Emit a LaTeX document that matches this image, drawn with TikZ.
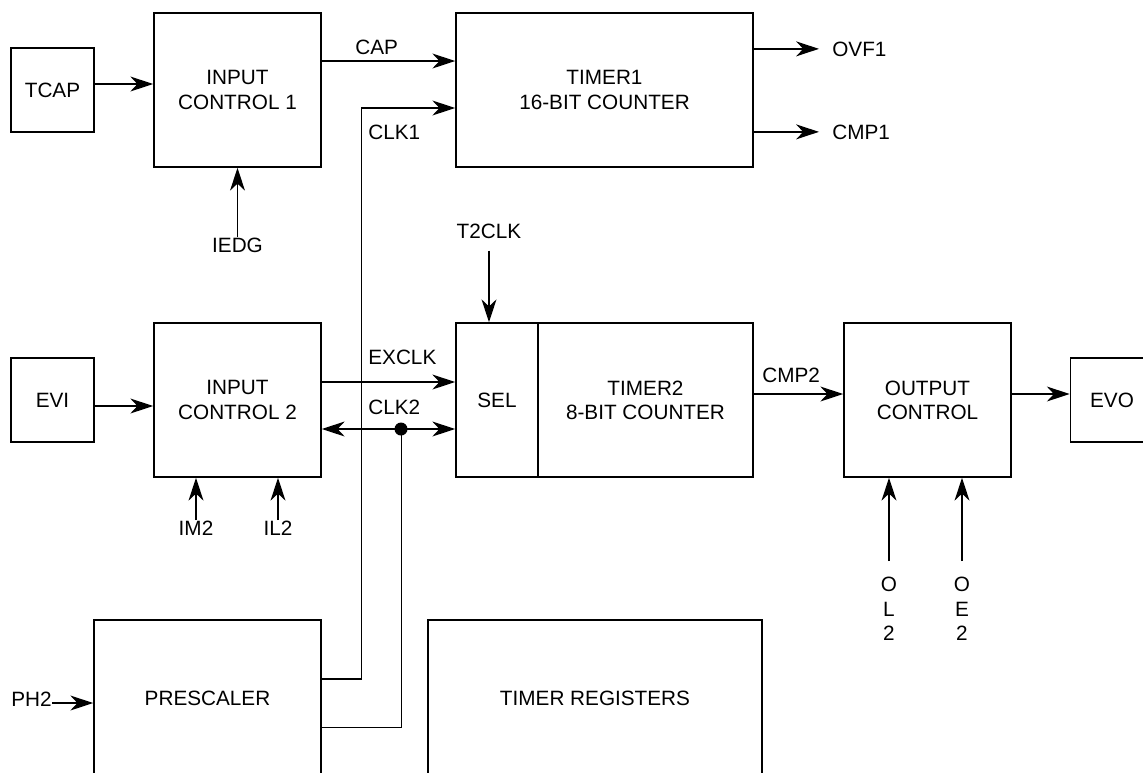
\documentclass[tikz,border=0pt]{standalone}
\usepackage{fontspec}
\setmainfont{Liberation Sans}
\usetikzlibrary{arrows.meta}

\begin{document}
\begin{tikzpicture}[
    x=0.02cm, y=-0.02cm,
    every node/.style={font=\fontsize{11.8}{13.8}\selectfont, align=center},
    blk/.style={draw, line width=0.9pt, inner sep=0pt},
    sq/.style={blk, minimum width=1.66cm, minimum height=1.68cm},
    ctl/.style={blk, minimum width=3.34cm, minimum height=3.08cm},
    lbl/.style={inner sep=0pt},
    sig/.style={line width=0.75pt, -{Stealth[length=13pt, width=8.5pt, inset=4pt]}},
    sig2/.style={line width=0.75pt, {Stealth[length=13pt, width=8.5pt, inset=4pt]}-{Stealth[length=13pt, width=8.5pt, inset=4pt]}}
]
\useasboundingbox (0,0) rectangle (1143,772);
\clip (0,0) rectangle (1143,772);

% blocks
\node[sq] (tcap) at (52.5,90) {TCAP};
\node[ctl] (ic1) at (237.5,90) {INPUT\\CONTROL 1};
\node[blk, minimum width=5.94cm, minimum height=3.08cm] (tmr1) at (604.5,90) {TIMER1\\16-BIT COUNTER};
\node[sq] (evi) at (52.5,400) {EVI};
\node[ctl] (ic2) at (237.5,400) {INPUT\\CONTROL 2};
\node[blk, minimum width=1.64cm, minimum height=3.08cm] (sel) at (497,400) {SEL};
\node[blk, minimum width=4.3cm, minimum height=3.08cm] (tmr2) at (645.5,400) {TIMER2\\8-BIT COUNTER};
\node[ctl] (oc) at (927.5,400) {OUTPUT\\CONTROL};
\node[sq] (evo) at (1112,400) {EVO};
\node[blk, minimum width=4.54cm, minimum height=3.12cm] (pre) at (207.5,698) {PRESCALER};
\node[blk, minimum width=6.68cm, minimum height=3.12cm] (regs) at (595,698) {TIMER REGISTERS};

% signal names
\node[lbl, anchor=base west] (cap) at (355,54) {CAP};
\node[lbl, anchor=base west] (clk1) at (368,139) {CLK1};
\node[lbl, anchor=base west] (exclk) at (368,364) {EXCLK};
\node[lbl, anchor=base west] (clk2) at (368,414) {CLK2};
\node[lbl, anchor=base west] (cmp2) at (762,382) {CMP2};
\node[lbl, anchor=base west] (ovf1) at (832,56) {OVF1};
\node[lbl, anchor=base west] (cmp1) at (832,139) {CMP1};
\node[lbl, anchor=base] (iedg) at (237.5,252) {IEDG};
\node[lbl, anchor=base] (t2clk) at (489,238) {T2CLK};
\node[lbl, anchor=base] (im2) at (196,535) {IM2};
\node[lbl, anchor=base] (il2) at (278,535) {IL2};
\node[lbl, anchor=north] (ol2) at (889,577) {O\\L\\2};
\node[lbl, anchor=north] (oe2) at (962,577) {O\\E\\2};
\node[lbl, anchor=base west] (ph2) at (11,706) {PH2};
\coordinate (jct) at (401,429);
\coordinate (ph2in) at ([yshift=0.06cm]ph2.base east);

% connectors
\draw[sig] ([yshift=0.12cm]tcap.east) -- ([yshift=0.12cm]ic1.west);
\draw[sig] ([yshift=0.58cm]ic1.east) -- ([yshift=0.58cm]tmr1.west);
\draw[sig] ([yshift=0.38cm]pre.east) -- ++(40,0) |- ([yshift=-0.36cm]tmr1.west);
\draw[sig] (tmr1.east |- ovf1.west) -- ([xshift=-0.26cm]ovf1.west);
\draw[sig] (tmr1.east |- cmp1.west) -- ([xshift=-0.26cm]cmp1.west);
\draw[sig] (iedg.north) -- (iedg.north |- ic1.south);
\draw[sig] ([yshift=-0.12cm]evi.east) -- ([yshift=-0.12cm]ic2.west);
\draw[sig] ([yshift=0.36cm]ic2.east) -- ([yshift=0.36cm]sel.west);
\draw[sig2] (ic2.east |- jct) -- (sel.west |- jct);
\draw ([yshift=-0.58cm]pre.east) -| (jct);
\fill (jct) circle (0.13cm);
\draw[sig] (im2.north) -- (im2.north |- ic2.south);
\draw[sig] (il2.north) -- (il2.north |- ic2.south);
\draw[sig, shorten <=0.24cm] (t2clk.south) -- (t2clk.south |- sel.north);
\draw[sig] ([yshift=0.12cm]tmr2.east) -- ([yshift=0.12cm]oc.west);
\draw[sig] ([yshift=0.12cm]oc.east) -- ([yshift=0.12cm]evo.west);
\draw[sig, shorten <=0.32cm] (ol2.north) -- (ol2.north |- oc.south);
\draw[sig, shorten <=0.32cm] (oe2.north) -- (oe2.north |- oc.south);
\draw[sig] (ph2in) -- (ph2in -| pre.west);
\end{tikzpicture}
\end{document}
